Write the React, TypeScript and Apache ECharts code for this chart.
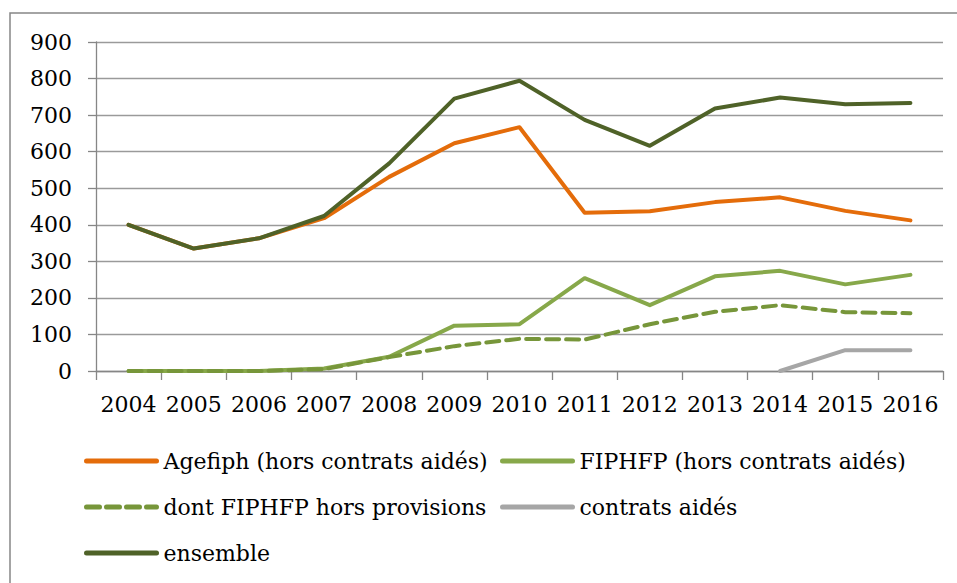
import React, { useEffect, useRef } from "react";
import * as echarts from "echarts";

const years = ["2004", "2005", "2006", "2007", "2008", "2009", "2010", "2011", "2012", "2013", "2014", "2015", "2016"];
const agefiph = [400, 335, 363, 418, 531, 623, 667, 433, 437, 462, 475, 438, 412];
const fiphfp = [0, 0, 0, 7, 39, 124, 128, 254, 180, 259, 274, 237, 263];
const dontFiphfp = [0, 0, 0, 5, 38, 68, 88, 86, 128, 162, 180, 161, 158];
const contratsAides = [null, null, null, null, null, null, null, null, null, null, 0, 57, 57];
const ensemble = [400, 335, 363, 424, 568, 745, 794, 687, 616, 718, 748, 730, 733];
const yTicks = [0, 900, 100];

const names = {
  agefiph: "Agefiph (hors contrats aidés)",
  fiphfp: "FIPHFP (hors contrats aidés)",
  dont: "dont FIPHFP hors provisions",
  contrats: "contrats aidés",
  ensemble: "ensemble",
};

const FONT = "DejaVu Serif";

export default function App() {
  const ref = useRef<HTMLDivElement>(null);
  useEffect(() => {
    if (!ref.current) return;
    const chart = echarts.init(ref.current, null, { renderer: "svg" });
    const lineSeries = (name: string, data: any[], color: string, dashed = false) => ({
      name,
      type: "line",
      data,
      symbol: "none",
      showSymbol: false,
      connectNulls: false,
      lineStyle: { color, width: 4, type: dashed ? [13, 7] : "solid", cap: "round", join: "round" },
      itemStyle: { color },
      z: 3,
    });
    const legendCommon = {
      orient: "vertical",
      top: 449,
      padding: 0,
      itemWidth: 70,
      itemHeight: 14,
      itemGap: 22,
      itemStyle: { opacity: 0 },
      lineStyle: { width: 5 },
      textStyle: { fontFamily: FONT, fontSize: 22, color: "#000", lineHeight: 24, padding: [0, 0, 0, 2] },
    };
    chart.setOption({
      animation: false,
      backgroundColor: "#fff",
      graphic: [
        {
          type: "rect",
          shape: { x: 10, y: 13, width: 1000, height: 700 },
          style: { fill: "none", stroke: "#868686", lineWidth: 1.5 },
          silent: true,
        },
      ],
      grid: { left: 96, right: 14, top: 42, bottom: 212 },
      legend: [
        { ...legendCommon, left: 84, data: [names.agefiph, names.dont, names.ensemble] },
        { ...legendCommon, left: 500, data: [names.fiphfp, names.contrats] },
      ],
      xAxis: {
        type: "category",
        data: years,
        boundaryGap: true,
        axisLine: { lineStyle: { color: "#868686", width: 1.3 } },
        axisTick: { show: true, length: 9, lineStyle: { color: "#868686", width: 1.3 } },
        axisLabel: { fontFamily: FONT, fontSize: 22, color: "#000", margin: 22, interval: 0 },
      },
      yAxis: {
        type: "value",
        min: yTicks[0],
        max: yTicks[1],
        interval: yTicks[2],
        axisLine: { show: true, lineStyle: { color: "#868686", width: 1.3 } },
        axisTick: { show: true, length: 8, lineStyle: { color: "#868686", width: 1.3 } },
        splitLine: { lineStyle: { color: "#9a9a9a", width: 1.3 } },
        axisLabel: { fontFamily: FONT, fontSize: 22, color: "#000", margin: 24 },
      },
      series: [
        lineSeries(names.agefiph, agefiph, "#E46C0A"),
        lineSeries(names.fiphfp, fiphfp, "#87A84A"),
        lineSeries(names.dont, dontFiphfp, "#77963A", true),
        lineSeries(names.contrats, contratsAides, "#A6A6A6"),
        lineSeries(names.ensemble, ensemble, "#4F6228"),
      ],
    });
    return () => chart.dispose();
  }, []);
  return <div ref={ref} style={{ position: "fixed", left: 0, top: 0, width: 957, height: 583 }} />;
}
